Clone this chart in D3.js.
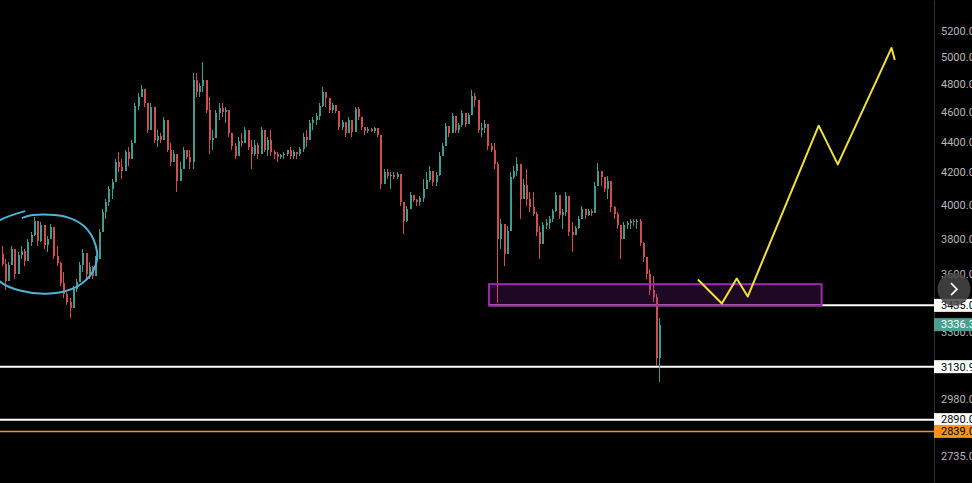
<!DOCTYPE html>
<html>
<head>
<meta charset="utf-8">
<script src="https://cdn.jsdelivr.net/npm/d3@7"></script>
<style>
  body { margin: 0; background: #000; overflow: hidden; }
  #chart text { font-family: Roboto, "Liberation Sans", Arial, sans-serif; }
</style>
</head>
<body>
<div id="chart"></div>
<script>
// candle data (open = previous close)
const firstOpen = 3713;
const closes = [
  3658,3566,3653,3741,3599,3708,3730,3675,3781,3820,
  3901,3786,3878,3764,3798,3866,3702,3664,3555,3492,
  3455,3419,3523,3561,3653,3719,3599,3642,3593,3686,
  3838,3955,4015,4094,4138,4264,4232,4206,4328,4283,
  4393,4645,4708,4765,4666,4480,4638,4413,4440,4413,
  4548,4347,4264,4315,4144,4219,4347,4296,4264,4830,
  4744,4787,4830,4617,4413,4426,4596,4631,4603,4617,
  4460,4373,4302,4406,4393,4480,4367,4315,4380,4315,
  4480,4347,4413,4334,4315,4296,4309,4315,4341,4302,
  4334,4315,4354,4433,4413,4528,4548,4575,4645,4744,
  4701,4617,4652,4610,4500,4534,4460,4548,4467,4624,
  4569,4500,4473,4487,4473,4494,4446,4125,4200,4175,
  4181,4168,4187,4015,3901,3973,4057,4027,4015,4039,
  4094,4150,4206,4138,4181,4302,4373,4507,4460,4575,
  4480,4514,4596,4521,4582,4715,4687,4480,4494,4521,
  4373,4347,4251,3798,3884,3713,3843,4168,4206,4251,
  4033,4119,4033,3985,3943,3838,3769,3878,3890,3913,
  3961,4057,3937,3955,4051,3838,3820,3861,3913,3973,
  3937,3961,3949,4113,4206,4168,4094,4144,3985,3943,
  3878,3798,3878,3890,3901,3896,3901,3775,3697,3599,
  3513,3481,3172,3336.3
];
const highs = [
  3758,3686,3669,3758,3647,3724,3758,3741,3798,3838,
  3925,3855,3896,3815,3815,3884,3855,3758,3669,3615,
  3507,3471,3539,3577,3669,3741,3686,3669,3647,3702,
  3855,3973,4033,4113,4156,4283,4328,4283,4347,4367,
  4413,4666,4736,4794,4758,4638,4666,4500,4480,4460,
  4569,4500,4393,4347,4283,4264,4367,4328,4347,4881,
  4881,4808,4962,4830,4708,4480,4617,4666,4666,4638,
  4528,4460,4393,4433,4460,4500,4460,4413,4413,4393,
  4500,4460,4433,4480,4347,4328,4315,4328,4347,4367,
  4347,4328,4367,4460,4480,4548,4569,4596,4666,4780,
  4736,4687,4666,4638,4596,4548,4528,4569,4548,4638,
  4638,4569,4500,4500,4494,4500,4480,4433,4219,4219,
  4200,4200,4200,4156,3991,3991,4075,4051,4033,4051,
  4156,4200,4238,4200,4200,4328,4393,4528,4500,4596,
  4528,4528,4617,4569,4596,4758,4736,4548,4528,4548,
  4460,4393,4393,4264,3913,3872,3872,4200,4238,4296,
  4156,4156,4219,4075,4075,3955,3872,3896,3913,3931,
  3973,4075,4015,3973,4075,3913,3896,3872,3931,3991,
  3955,3973,3973,4138,4257,4200,4156,4175,4033,3991,
  3955,3872,3896,3901,3913,3913,3913,3913,3781,3669,
  3631,3593,3497,3368
];
const lows = [
  3647,3513,3593,3669,3577,3631,3686,3647,3724,3758,
  3815,3758,3781,3741,3724,3798,3686,3647,3539,3471,
  3435,3368,3455,3507,3561,3615,3577,3577,3577,3593,
  3702,3838,3913,3991,4033,4175,4200,4156,4219,4238,
  4283,4393,4617,4708,4638,4460,4528,4393,4367,4393,
  4460,4328,4238,4264,4075,4156,4238,4283,4219,4219,
  4708,4708,4744,4596,4315,4347,4500,4548,4569,4528,
  4433,4347,4283,4347,4367,4413,4347,4219,4302,4283,
  4367,4328,4302,4302,4283,4264,4283,4283,4302,4283,
  4283,4283,4302,4328,4367,4413,4480,4514,4548,4638,
  4638,4596,4596,4596,4480,4480,4433,4480,4433,4569,
  4548,4480,4446,4460,4467,4460,4433,4094,4156,4156,
  4094,4156,4156,3991,3826,3896,3991,4015,3991,3991,
  4015,4094,4138,4113,4113,4175,4302,4433,4433,4500,
  4460,4460,4500,4500,4528,4666,4638,4460,4433,4460,
  4347,4328,4219,3445,3741,3647,3758,4033,4156,4175,
  3913,4075,3991,3955,3931,3815,3686,3838,3855,3855,
  3896,3955,3913,3855,3931,3815,3724,3838,3855,3913,
  3913,3931,3931,4015,4138,4113,4075,4033,3955,3913,
  3855,3686,3838,3855,3855,3872,3855,3758,3669,3577,
  3487,3455,3134,3060
];

// price axis
const axisTicks = [5200, 5000, 4800, 4600, 4400, 4200, 4000, 3800, 3600, 3300, 2980, 2735];

// horizontal levels: price, colour, start bar
const levelPrices = [3435, 3130.9, 2890, 2839];
const levelColors = ["#ffffff", "#ffffff", "#ffffff", "#f7931a"];
const levelStart = [150.5, -5, -5, -5];
const lastPrice = 3336.3;

// drawings, in [bar index, price]
const zoneBars = [150.5, 253.2];
const zonePrices = [3547, 3435];
const circlePts = [[6.3,3919],[9.7,3937],[20.2,3925],[26.4,3855],[29.5,3724],[28.2,3615],[23.3,3534],
  [15.0,3497],[5.7,3513],[-0.5,3561],[-6.0,3713],[-3.5,3855],[-0.5,3907],[7.3,3961]];
const pathPts = [[215.0,3572],[222.4,3445],[227.0,3577],[230.4,3481],[252.3,4507],[258.2,4251],[274.8,5069],[275.8,4977]];

const W = 972, H = 483, plotW = 934;

const x = d3.scaleLinear().domain([0, closes.length - 1]).range([1.5, 659]);
const y = d3.scaleLog().domain([2626, 5450]).range([H, 0]);

const candles = closes.map((c, i) => {
  const o = i ? closes[i - 1] : firstOpen;
  return { i, o, c, h: Math.max(highs[i], o, c), l: Math.min(lows[i], o, c) };
});

const svg = d3.select("#chart").append("svg")
  .attr("width", W).attr("height", H)
  .style("background", "#000");

const plot = svg.append("g");

// levels
levelPrices.forEach((p, k) => {
  plot.append("line")
    .attr("x1", x(levelStart[k])).attr("x2", plotW)
    .attr("y1", y(p)).attr("y2", y(p))
    .attr("stroke", levelColors[k])
    .attr("stroke-width", k === 3 ? 1.5 : 2);
});

// candles
const up = "#3f9c8f", down = "#cf4f4f";
const cg = plot.append("g").attr("shape-rendering", "crispEdges");
cg.selectAll("line").data(candles).enter().append("line")
  .attr("x1", d => Math.round(x(d.i)) + 0.5).attr("x2", d => Math.round(x(d.i)) + 0.5)
  .attr("y1", d => y(d.h)).attr("y2", d => y(d.l))
  .attr("stroke", d => d.c >= d.o ? up : down)
  .attr("stroke-width", 1);
cg.selectAll("rect").data(candles).enter().append("rect")
  .attr("x", d => Math.round(x(d.i)))
  .attr("width", 2)
  .attr("y", d => y(Math.max(d.o, d.c)))
  .attr("height", d => Math.max(1, Math.abs(y(d.o) - y(d.c))))
  .attr("fill", d => d.c >= d.o ? up : down);

// purple zone
plot.append("rect")
  .attr("x", x(zoneBars[0])).attr("width", x(zoneBars[1]) - x(zoneBars[0]))
  .attr("y", y(zonePrices[0])).attr("height", y(zonePrices[1]) - y(zonePrices[0]))
  .attr("fill", "rgba(156,39,176,0.2)")
  .attr("stroke", "#9c27b0")
  .attr("stroke-width", 2);

// blue circle
plot.append("path")
  .attr("d", d3.line().x(d => x(d[0])).y(d => y(d[1])).curve(d3.curveCatmullRom)(circlePts))
  .attr("fill", "none").attr("stroke", "#4fb3d6").attr("stroke-width", 2);

// yellow projection
plot.append("path")
  .attr("d", d3.line().x(d => x(d[0])).y(d => y(d[1]))(pathPts))
  .attr("fill", "none").attr("stroke", "#f2e03a").attr("stroke-width", 2)
  .attr("stroke-linejoin", "round");

// price axis
const axis = svg.append("g")
  .attr("transform", `translate(${plotW},0)`)
  .call(d3.axisRight(y).tickValues(axisTicks).tickSize(0).tickPadding(7).tickFormat(d3.format(".1f")));
axis.select(".domain").attr("stroke", "#2e2e2e");
axis.selectAll("text").attr("fill", "#b8b8b8").style("font-size", "11px");

// level labels
const labels = levelPrices.map((p, k) => ({ p, bg: levelColors[k], fg: "#000" }));
labels.push({ p: lastPrice, bg: "#4c9e90", fg: "#fff" });
const lg = svg.append("g");
labels.forEach(d => {
  lg.append("rect")
    .attr("x", plotW).attr("y", y(d.p) - 6.5).attr("width", W - plotW).attr("height", 13)
    .attr("fill", d.bg);
  lg.append("text")
    .attr("x", plotW + 7).attr("y", y(d.p)).attr("dy", "0.35em")
    .attr("fill", d.fg).style("font-size", "11px")
    .text(d3.format(".1f")(d.p));
});

// scroll button
const btn = svg.append("g").attr("transform", `translate(954,${y(3520)})`);
btn.append("circle").attr("r", 16.5).attr("fill", "#474747").attr("opacity", 0.85);
btn.append("path").attr("d", "M-3,-6 L3,0 L-3,6")
  .attr("fill", "none").attr("stroke", "#fff").attr("stroke-width", 1.6);
</script>
</body>
</html>
